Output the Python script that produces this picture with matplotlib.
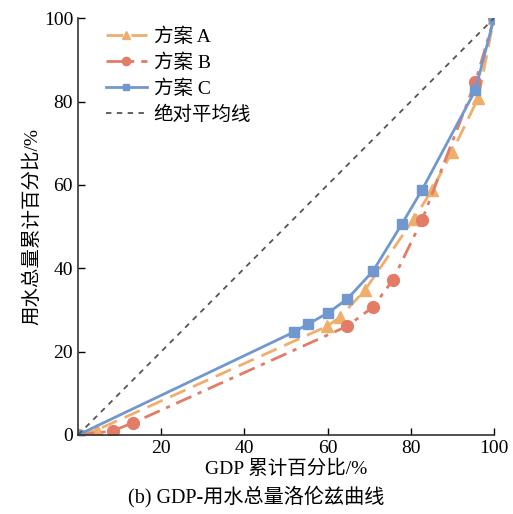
import matplotlib
matplotlib.use("Agg")
import matplotlib.pyplot as plt

plt.rcParams['font.family'] = ['Liberation Serif', 'Noto Sans CJK SC']

a_x = [0, 4.5, 59.9, 63.0, 69.0, 80.7, 85.1, 89.9, 96.2, 100]
a_y = [0, 1.2, 26.1, 28.3, 34.8, 51.8, 58.8, 67.9, 80.8, 100]
b_x = [0, 8.4, 13.2, 64.7, 70.9, 75.7, 82.7, 95.5, 100]
b_y = [0, 1.0, 2.9, 26.1, 30.7, 37.2, 51.6, 84.6, 100]
c_x = [0, 51.9, 55.3, 60.1, 64.7, 70.9, 77.9, 82.7, 95.5, 100]
c_y = [0, 24.7, 26.6, 29.3, 32.6, 39.3, 50.7, 58.8, 82.7, 100]
diag = [0, 100]
labels = ['方案 A', '方案 B', '方案 C', '绝对平均线']
xticks = [20, 40, 60, 80, 100]
yticks = [0, 20, 40, 60, 80, 100]

fig = plt.figure(figsize=(5.13, 5.14), dpi=100)
ax = fig.add_axes([0.152, 0.1537, 0.811, 0.811])

ax.plot(a_x, a_y, color='#F0AE6C', lw=2, ls=(0, (6, 3)), marker='^', ms=9, label=labels[0])
ax.plot(b_x, b_y, color='#E27C66', lw=2, ls=(0, (6, 2.5, 1.5, 2.5)), marker='o', ms=8.5, label=labels[1])
ax.plot(c_x, c_y, color='#7197CF', lw=2, ls='-', marker='s', ms=7, label=labels[2])
ax.plot(diag, diag, color='#555555', lw=1.3, ls=(0, (3, 3)), label=labels[3])

ax.set_xlim(0, 100)
ax.set_ylim(0, 100)
ax.set_xticks(xticks)
ax.set_yticks(yticks)
ax.tick_params(direction='in', labelsize=14, length=5, width=1)
ax.spines['top'].set_visible(False)
ax.spines['right'].set_visible(False)
for s in ['left', 'bottom']:
    ax.spines[s].set_linewidth(1.2)
    ax.spines[s].set_color('#333333')

ax.set_xlabel('GDP 累计百分比/%', fontsize=14, labelpad=2)
ax.set_ylabel('用水总量累计百分比/%', fontsize=14, labelpad=2)
fig.text(0.5, 0.012, '(b) GDP-用水总量洛伦兹曲线', fontsize=14.5, ha='center', va='bottom')

leg = ax.legend(loc='upper left', bbox_to_anchor=(0.025, 1.02), frameon=False, fontsize=14,
                handlelength=2.1, labelspacing=0.38, handletextpad=0.35, markerscale=0.7)

fig.savefig('out.png', dpi=100)
